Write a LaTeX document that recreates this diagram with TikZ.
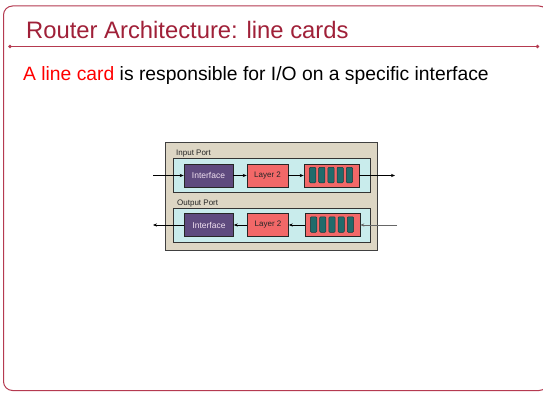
\documentclass[tikz,border=0pt]{standalone}
\usepackage{fontspec}
\setmainfont{Liberation Sans}
\usetikzlibrary{arrows.meta,shadows}

\definecolor{frameRed}{HTML}{B53A50}
\definecolor{titleRed}{HTML}{A02038}
\definecolor{cardBeige}{HTML}{DDD6C4}
\definecolor{portCyan}{HTML}{C9ECEC}
\definecolor{ifPurple}{HTML}{5E4A7E}
\definecolor{l2Salmon}{HTML}{F26868}
\definecolor{cellTeal}{HTML}{216B6B}
\definecolor{cellDark}{HTML}{123C3C}

\tikzset{
  cardbox/.style={draw=black!75, line width=0.6pt, fill=cardBeige, inner sep=0pt},
  portbox/.style={draw=black!80, line width=0.6pt, fill=portCyan, inner sep=0pt,
                  minimum width=197pt, minimum height=34pt},
  unitbox/.style={draw=black!85, line width=0.6pt, inner sep=0pt,
                  minimum height=23pt,
                  drop shadow={shadow xshift=0.8pt, shadow yshift=-0.8pt, opacity=0.35}},
  ifbox/.style={unitbox, fill=ifPurple, minimum width=49pt,
                text=white!88!violet, font=\fontsize{8.5}{9}\selectfont},
  l2box/.style={unitbox, fill=l2Salmon, minimum width=41pt,
                text=black!85, font=\fontsize{8}{9}\selectfont},
  qbox/.style={unitbox, fill=l2Salmon, minimum width=55pt},
  cell/.style={draw=cellDark, line width=0.5pt, fill=cellTeal, rounded corners=1pt,
               minimum width=6.3pt, minimum height=15.5pt, inner sep=0pt},
  portlabel/.style={font=\fontsize{8}{9}\selectfont, text=black!85, inner sep=0pt, anchor=base west},
  flow/.style={line width=0.6pt, -{Stealth[length=4pt,width=3.2pt]}},
}

\begin{document}
\begin{tikzpicture}[x=1pt,y=-1pt]
\useasboundingbox (0,0) rectangle (543,393);
\fill[white] (0,0) rectangle (543,393);

% slide frame and title rule
\draw[frameRed, line width=1pt, rounded corners=9pt] (3.5,6) rectangle (548,390.5);
\draw[frameRed, line width=1.1pt] (10,46.5) -- (537.5,46.5);
\fill[frameRed] (10,46.5) circle (1.8pt) (537.5,46.5) circle (1.8pt);

\node[anchor=base west, inner sep=0pt, text=titleRed, font=\fontsize{23.8}{26}\selectfont]
  (title) at (26,38.5) {Router Architecture: line cards};
\node[anchor=base west, inner sep=0pt, font=\fontsize{19.3}{22}\selectfont]
  (lead) at (23,81) {\textcolor{red}{A line card} is responsible for I/O on a specific interface};

% line card
\node[cardbox, minimum width=212pt, minimum height=108pt] (card) at (271.5,196) {};

% input port
\node[portlabel] (inlbl) at (176,155.5) {Input Port};
\node[portbox] (inport) at (271.5,175) {};
\node[ifbox] (inif) at (208.5,175.5) {Interface};
\node[l2box] (inl2) at (267.5,175.5) {Layer 2};
\node[qbox] (inq) at (331.5,175.5) {};
\foreach \i in {0,...,4}
  \node[cell] (inc\i) at ({312.6+\i*9.2},175) {};
\coordinate (insrc) at (153,175.5);
\coordinate (indst) at (395,175.5);
\draw[flow] (insrc) -- (inif.west);
\draw[flow] (inif.east) -- (inl2.west);
\draw[flow] (inl2.east) -- (inq.west);
\draw[flow] (inq.east) -- (indst);

% output port
\node[portlabel] (outlbl) at (177,205.5) {Output Port};
\node[portbox] (outport) at (271.5,225) {};
\node[ifbox] (outif) at (209,225) {Interface};
\node[l2box] (outl2) at (268,225) {Layer 2};
\node[qbox] (outq) at (332.5,225) {};
\foreach \i in {0,...,4}
  \node[cell] (outc\i) at ({313.6+\i*9.2},224.5) {};
\coordinate (outsrc) at (397,225);
\coordinate (outdst) at (153,225);
\draw[flow, black!60] (outsrc) -- (outq.east);
\draw[flow] (outq.west) -- (outl2.east);
\draw[flow] (outl2.west) -- (outif.east);
\draw[flow] (outif.west) -- (outdst);
\end{tikzpicture}
\end{document}
